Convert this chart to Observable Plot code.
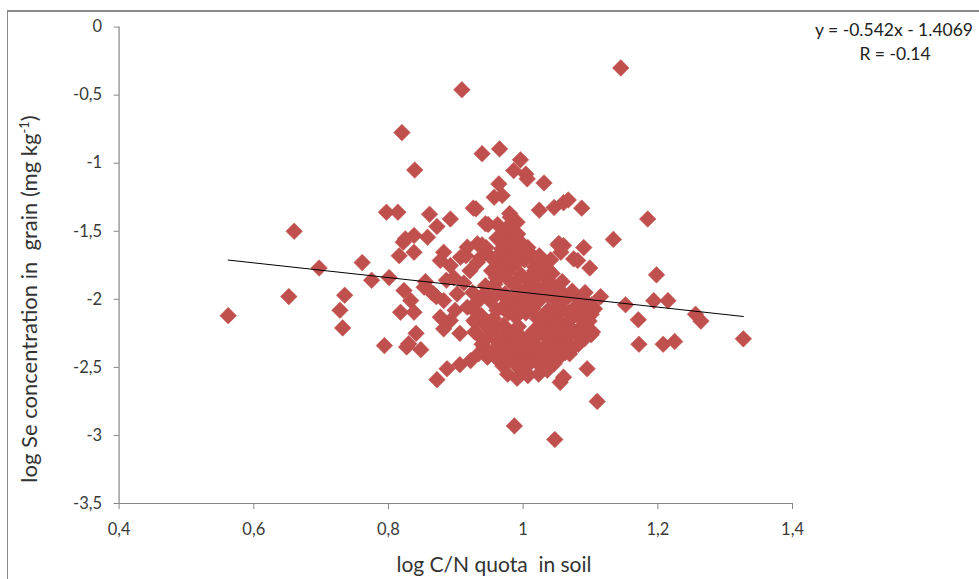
<!DOCTYPE html>
<html><head><meta charset="utf-8">
<script src="https://cdn.jsdelivr.net/npm/d3@7"></script>
<script src="https://cdn.jsdelivr.net/npm/@observablehq/plot@0.6"></script>
<style>
html,body{margin:0;padding:0;background:#fff;overflow:hidden;width:979px;height:579px}
#frame{position:absolute;left:7px;top:10px;width:1000px;height:600px;border-left:1.5px solid #8a8a8a;border-top:2px solid #8a8a8a;}
#chart{position:absolute;left:0;top:0}
</style></head><body>
<div id="frame"></div><div id="chart"></div>
<script>
// [log C/N quota in soil, log Se concentration in grain]
const sparsePoints = [
  [0.562,-2.12],[0.652,-1.98],[0.660,-1.50],[0.697,-1.77],[0.728,-2.08],[0.735,-1.97],[0.732,-2.21],
  [0.761,-1.73],[0.775,-1.86],[0.794,-2.34],[0.797,-1.36],[0.801,-1.84],[0.814,-1.36],[0.820,-0.775],
  [0.816,-1.68],[0.822,-1.58],[0.827,-2.35],[0.839,-1.05],[0.848,-2.37],[0.841,-2.25],[0.861,-1.375],
  [0.872,-2.59],[0.892,-1.41],[0.887,-2.51],[0.909,-0.46],[0.906,-2.48],[0.922,-2.45],[0.926,-1.33],
  [0.939,-0.93],[0.948,-1.45],[0.965,-0.895],[0.987,-2.93],[0.996,-0.975],[1.004,-1.08],[1.031,-1.145],
  [1.024,-1.345],[1.046,-1.325],[1.047,-3.03],[1.055,-2.61],[1.067,-1.27],[1.087,-1.33],[1.052,-1.60],
  [1.090,-1.62],[1.099,-1.77],[1.095,-2.51],[1.110,-2.75],[1.115,-1.98],[1.134,-1.56],[1.145,-0.30],
  [1.152,-2.04],[1.171,-2.15],[1.172,-2.33],[1.185,-1.41],[1.194,-2.01],[1.198,-1.82],[1.208,-2.33],
  [1.215,-2.01],[1.225,-2.31],[1.256,-2.11],[1.264,-2.16],[1.327,-2.29]
];
const midPoints = [
  [0.986,-1.054],[1.006,-1.115],[0.964,-1.152],[0.957,-1.25],[0.969,-1.237],[1.060,-1.29],
  [0.872,-1.465],[0.981,-1.397],[0.984,-1.494],[0.971,-1.519],[0.991,-1.433],[0.825,-1.556],
  [0.838,-1.531],[0.838,-1.654],[0.858,-1.544],[0.882,-1.654],[0.917,-1.617],[0.932,-1.592],
  [0.937,-1.691],[0.907,-1.691],[0.971,-1.592],[0.976,-1.666],[0.996,-1.691],[1.011,-1.666],
  [1.056,-1.654],[1.075,-1.703],[0.877,-1.715],[0.892,-1.752],[0.932,-1.727],[0.952,-1.691],
  [0.823,-1.935],[0.833,-2.009],[0.818,-2.095],[0.838,-2.095],[0.853,-1.911],[0.867,-1.96],
  [0.882,-2.009],[0.877,-2.131],[0.892,-2.156],[0.882,-2.217],[0.902,-1.960],[0.917,-2.058],
  [0.927,-2.156],[0.932,-2.254],[0.942,-2.352],[0.947,-2.425],[0.830,-2.327],[0.986,-2.376],
  [1.006,-2.547],[1.046,-2.474],[1.026,-2.450],[0.996,-2.450],[0.986,-2.278],[1.016,-2.327],
  [1.036,-2.352],[1.070,-2.376],[1.066,-2.278],[1.066,-1.985],[1.060,-2.572],[1.060,-1.605],
  [0.871,-1.98],[0.906,-2.25],[0.929,-2.17],[0.939,-2.33],[0.948,-2.39],[0.915,-1.68],
  [0.939,-1.60],[0.957,-1.71],[0.929,-2.03],[0.944,-1.90],[0.855,-1.87],[0.864,-1.95],
  [1.078,-1.98],[1.092,-1.95],[1.101,-2.11],[1.087,-2.20],[1.101,-2.26],[1.082,-2.33],
  [1.069,-2.40],[1.106,-2.07],[1.041,-1.71],[1.024,-1.68],[1.017,-1.76],[0.980,-1.37],
  [0.985,-1.43],[0.897,-1.84],[0.912,-1.88],[0.921,-1.79],[0.886,-1.86],[0.899,-2.08],
  [1.053,-1.59],[1.081,-1.715],[0.944,-1.445],[0.930,-1.335],
  [0.931,-2.10],[0.928,-2.24],[0.934,-2.40],[0.925,-1.95],[0.936,-2.00],[0.938,-2.12]
];
const corePoints = [
  [0.953,-1.79],[0.958,-1.89],[0.951,-2.01],[0.956,-2.14],[0.954,-2.27],[0.959,-2.37],
  [0.968,-1.63],[0.972,-1.73],[0.966,-1.83],[0.973,-1.96],[0.969,-2.06],[0.971,-2.19],[0.967,-2.31],[0.974,-2.41],[0.970,-2.49],
  [0.984,-1.56],[0.988,-1.67],[0.982,-1.77],[0.987,-1.90],[0.983,-2.02],[0.989,-2.13],[0.985,-2.24],[0.981,-2.35],[0.988,-2.47],
  [0.998,-1.59],[1.002,-1.71],[0.997,-1.82],[1.003,-1.93],[0.999,-2.01],[1.004,-2.10],[0.996,-2.27],[1.001,-2.34],[1.005,-2.41],[0.998,-2.52],
  [1.013,-1.69],[1.017,-1.79],[1.012,-1.88],[1.018,-1.98],[1.014,-2.07],[1.016,-2.23],[1.011,-2.31],[1.019,-2.43],
  [1.028,-1.72],[1.033,-1.84],[1.029,-1.95],[1.032,-2.11],[1.027,-2.18],[1.034,-2.27],[1.030,-2.39],[1.026,-2.49],
  [1.043,-1.81],[1.047,-1.91],[1.044,-1.99],[1.048,-2.13],[1.042,-2.21],[1.046,-2.33],[1.041,-2.42],
  [1.058,-1.87],[1.062,-1.97],[1.057,-2.07],[1.061,-2.19],[1.056,-2.31],[1.063,-2.39],
  [1.073,-1.94],[1.077,-2.06],[1.072,-2.14],[1.076,-2.24],[1.071,-2.35],
  [1.088,-1.99],[1.092,-2.09],[1.086,-2.21],[1.091,-2.29],
  [1.102,-2.04],[1.098,-2.16],[1.103,-2.24]
];
const coreFillPoints = [
  [0.945,-1.62],[0.944,-1.95],[0.946,-2.20],[0.943,-2.30],
  [0.962,-1.45],[0.961,-1.55],[0.963,-1.68],[0.962,-1.78],[0.960,-1.84],[0.963,-1.95],[0.961,-2.08],[0.962,-2.21],[0.964,-2.33],[0.962,-2.44],
  [0.977,-1.47],[0.978,-1.60],[0.976,-1.70],[0.977,-1.80],[0.979,-1.86],[0.976,-2.00],[0.978,-2.10],[0.977,-2.25],[0.975,-2.36],[0.978,-2.45],[0.977,-2.55],
  [0.992,-1.52],[0.993,-1.63],[0.991,-1.73],[0.992,-1.86],[0.994,-1.96],[0.991,-2.06],[0.993,-2.20],[0.992,-2.30],[0.990,-2.38],[0.993,-2.50],[0.991,-2.58],
  [1.007,-1.62],[1.008,-1.85],[1.006,-1.96],[1.008,-2.05],[1.007,-2.28],[1.006,-2.38],[1.008,-2.48],[1.007,-2.56],
  [1.022,-1.74],[1.021,-1.83],[1.023,-1.92],[1.022,-2.02],[1.021,-2.14],[1.023,-2.26],[1.022,-2.36],[1.021,-2.46],[1.023,-2.55],
  [1.037,-1.78],[1.038,-1.88],[1.036,-1.97],[1.037,-2.08],[1.038,-2.15],[1.036,-2.24],[1.037,-2.32],[1.038,-2.45],[1.036,-2.52],
  [1.052,-1.94],[1.053,-2.04],[1.051,-2.16],[1.052,-2.26],[1.053,-2.36],[1.051,-2.44],
  [1.067,-2.10],[1.068,-2.20],[1.066,-2.33],
  [1.082,-2.04],[1.083,-2.13],[1.081,-2.27]
];
const xTicks = [0.4, 0.6, 0.8, 1.0, 1.2, 1.4];
const yTicks = [0, -0.5, -1, -1.5, -2, -2.5, -3, -3.5];
const trendSlope = -0.542;
const trendIntercept = -1.4069;
const equationText = "y = -0.542x - 1.4069";
const rText = "R = -0.14";
const xTitle = "log C/N quota  in soil";

const points = [...sparsePoints, ...midPoints, ...corePoints, ...coreFillPoints].map(([x, y]) => ({x, y}));
const xExt = d3.extent(points, d => d.x);
const trend = xExt.map(x => ({x, y: trendSlope * x + trendIntercept}));
const fmt = d => String(d).replace(".", ",");
const font = "Lato, 'Open Sans', sans-serif";
const axisColor = "#868686";

const plot = Plot.plot({
  width: 979, height: 579,
  marginLeft: 118.6, marginRight: 187, marginTop: 26.6, marginBottom: 76,
  style: {fontFamily: font, background: "transparent", overflow: "visible"},
  x: {domain: [0.4, 1.4]},
  y: {domain: [-3.5, 0]},
  marks: [
    Plot.ruleX([0.4], {stroke: axisColor, strokeWidth: 1.2}),
    Plot.ruleY([-3.5], {stroke: axisColor, strokeWidth: 1.2}),
    Plot.axisY(yTicks, {tickSize: 5, tickPadding: 12, tickFormat: fmt, stroke: axisColor, fill: "#3a3a3a", fontSize: 16.5, label: null}),
    Plot.axisX(xTicks, {tickSize: 6, tickPadding: 14, tickFormat: fmt, stroke: axisColor, fill: "#3a3a3a", fontSize: 16.5, label: null}),
    Plot.dot(points, {x: "x", y: "y", symbol: "diamond2", r: 7.5, fill: "#C0504D", stroke: "#C0504D", strokeWidth: 0.5}),
    Plot.line(trend, {x: "x", y: "y", stroke: "#000", strokeWidth: 1})
  ]
});
document.getElementById("chart").appendChild(plot);
const svg = d3.select(plot);
svg.append("text").attr("x", 494).attr("y", 572).attr("text-anchor", "middle")
  .attr("font-family", font).attr("font-size", 21).attr("fill", "#333").text(xTitle);
const yt = svg.append("text").attr("transform", "translate(37,299) rotate(-90)").attr("text-anchor", "middle")
  .attr("font-family", font).attr("font-size", 22).attr("fill", "#333");
yt.append("tspan").text("log Se concentration in  grain (mg kg");
yt.append("tspan").attr("dy", -8).attr("font-size", 13).text("-1");
yt.append("tspan").attr("dy", 8).text(")");
svg.append("text").attr("x", 894).attr("y", 36).attr("text-anchor", "middle")
  .attr("font-family", font).attr("font-size", 17.5).attr("fill", "#222").text(equationText);
svg.append("text").attr("x", 895).attr("y", 60).attr("text-anchor", "middle")
  .attr("font-family", font).attr("font-size", 17.5).attr("fill", "#222").text(rText);
</script>
</body></html>
